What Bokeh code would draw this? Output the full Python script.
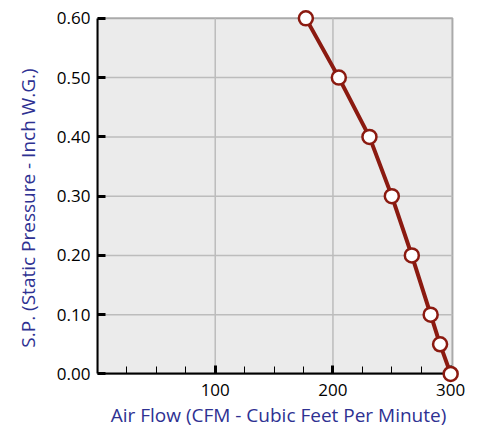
from bokeh.plotting import figure
from bokeh.models import FixedTicker, Range1d, CustomJSTickFormatter, BoxAnnotation, LinearAxis
from bokeh.embed import file_html
from bokeh.resources import INLINE

# Data
air_flow = [177, 205, 231, 250, 267, 283, 291, 300]
static_pressure = [0.60, 0.50, 0.40, 0.30, 0.20, 0.10, 0.05, 0.00]

x_ticks = [100, 200, 300]
x_minor = [25, 50, 75, 125, 150, 175, 225, 250, 275]
y_ticks = [0.0, 0.1, 0.2, 0.3, 0.4, 0.5, 0.6]
x_grid = [100, 200]
y_grid = [0.1, 0.2, 0.3, 0.4, 0.5]
x_max = 301.5
y_max = 0.6

FONT = "Open Sans"
LABEL_COLOR = "#2e3192"
LINE_COLOR = "#8b1a10"

p = figure(frame_width=362, frame_height=403,
           x_range=Range1d(0, 307.5), y_range=Range1d(-0.06, 0.62),
           output_backend="svg", toolbar_location=None,
           min_border_left=97, min_border_right=10, min_border_top=6, min_border_bottom=16)

p.background_fill_color = "white"
p.border_fill_color = "white"
p.outline_line_color = None
p.grid.visible = False

panel = BoxAnnotation(left=0, right=x_max, bottom=0, top=y_max,
                      fill_color="#ebebeb", fill_alpha=1.0,
                      line_color="#aaaaaa", line_alpha=1.0, line_width=2,
                      level="underlay")
p.add_layout(panel)

# grid lines
p.segment(x0=x_grid, y0=[0] * len(x_grid), x1=x_grid, y1=[y_max] * len(x_grid),
          line_color="#bcbcbc", line_width=1.5)
p.segment(x0=[0] * len(y_grid), y0=y_grid, x1=[x_max] * len(y_grid), y1=y_grid,
          line_color="#bcbcbc", line_width=1.5)


def style_ticks(ax):
    ax.axis_line_color = "black"
    ax.axis_line_width = 2
    ax.major_tick_in = 8
    ax.major_tick_out = 0
    ax.major_tick_line_width = 3
    ax.major_tick_line_color = "black"
    ax.minor_tick_in = 7
    ax.minor_tick_out = 0
    ax.minor_tick_line_width = 1
    ax.minor_tick_line_color = "black"


def style_text(ax):
    ax.major_label_text_font = FONT
    ax.major_label_text_font_size = "17px"
    ax.major_label_text_color = "black"
    ax.axis_label_text_font = FONT
    ax.axis_label_text_font_size = "19px"
    ax.axis_label_text_font_style = "normal"
    ax.axis_label_text_color = LABEL_COLOR


# y axis
yax = p.yaxis[0]
yax.ticker = FixedTicker(ticks=y_ticks, minor_ticks=[])
yax.formatter = CustomJSTickFormatter(code="return tick.toFixed(2);")
yax.bounds = (0, y_max)
style_ticks(yax)
style_text(yax)
yax.axis_label = "S.P. (Static Pressure - Inch W.G.)"
yax.major_label_standoff = 7
yax.axis_label_standoff = 13

# x axis: numbers and title only, pulled up from the frame bottom
xax = p.xaxis[0]
xax.ticker = FixedTicker(ticks=x_ticks, minor_ticks=[])
style_text(xax)
xax.axis_line_color = None
xax.major_tick_line_color = None
xax.minor_tick_line_color = None
xax.major_tick_in = 0
xax.major_tick_out = 0
xax.minor_tick_in = 0
xax.minor_tick_out = 0
xax.axis_label = "Air Flow (CFM - Cubic Feet Per Minute)"
xax.major_label_standoff = -26
xax.axis_label_standoff = 3

# x axis line and ticks at y = 0
xline = LinearAxis(fixed_location=0, bounds=(0, x_max),
                   ticker=FixedTicker(ticks=x_ticks, minor_ticks=x_minor))
style_ticks(xline)
xline.major_label_text_color = None
xline.major_label_text_font_size = "0px"
p.add_layout(xline, "below")

p.line(air_flow, static_pressure, line_color=LINE_COLOR, line_width=4, level="overlay")
p.scatter(air_flow, static_pressure, size=14, fill_color="white",
          line_color=LINE_COLOR, line_width=2.5, level="overlay")

open("out.html", "w").write(file_html(p, INLINE))
